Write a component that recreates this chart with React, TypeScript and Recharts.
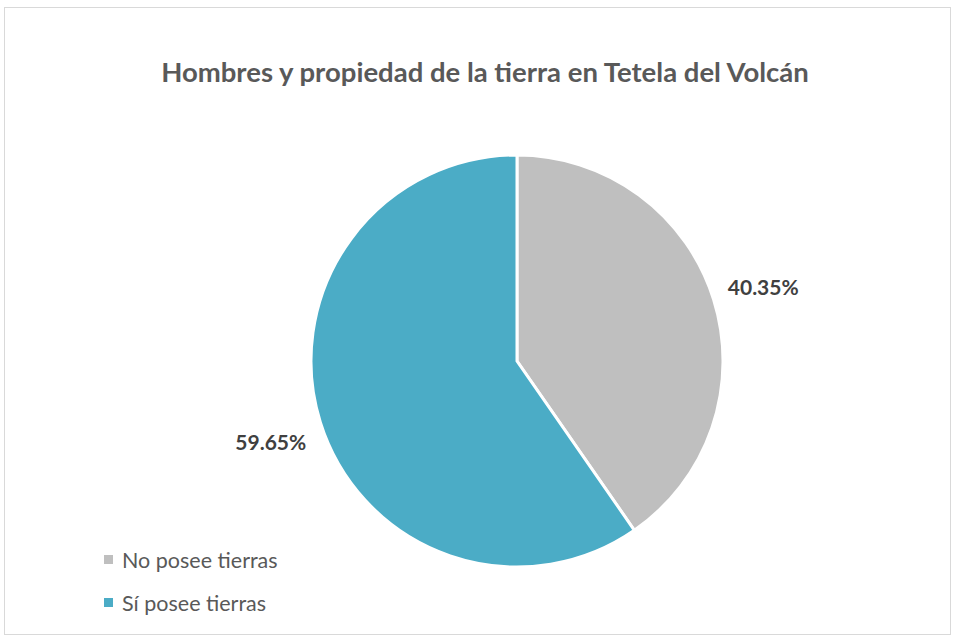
import React from "react";
import { Cell, Pie, PieChart } from "recharts";

const categories = ["No posee tierras", "Sí posee tierras"];
const shares = [40.35, 59.65];
const colors = ["#bfbfbf", "#4bacc6"];

const data = categories.map((name, i) => ({ name, value: shares[i] }));

const RADIAN = Math.PI / 180;
const FONT = "Lato, 'Open Sans', sans-serif";

const renderLabel = (props: any) => {
	const { cx, cy, midAngle, outerRadius, value } = props;
	const r = outerRadius + 52;
	const x = cx + r * Math.cos(-midAngle * RADIAN);
	const y = cy + r * Math.sin(-midAngle * RADIAN) + 3;
	return (
		<text
			x={x}
			y={y}
			fill="#404040"
			textAnchor="middle"
			dominantBaseline="central"
			fontSize={21}
			fontWeight={700}
			fontFamily={FONT}
		>
			{`${value.toFixed(2)}%`}
		</text>
	);
};

export default function App() {
	return (
		<div
			style={{
				position: "fixed",
				left: 0,
				top: 0,
				width: 955,
				height: 637,
				background: "#fff",
			}}
		>
			<div
				style={{
					position: "absolute",
					left: 4,
					top: 7,
					width: 945,
					height: 626,
					border: "1.5px solid #d9d9d9",
				}}
			/>
			<div
				style={{
					position: "absolute",
					left: 0,
					top: 55,
					width: 970,
					textAlign: "center",
					fontFamily: FONT,
					fontWeight: 700,
					fontSize: 27.5,
					color: "#595959",
				}}
			>
				Hombres y propiedad de la tierra en Tetela del Volcán
			</div>
			<div style={{ position: "absolute", left: 0, top: 0 }}>
				<PieChart
					width={955}
					height={637}
					margin={{ top: 0, right: 0, bottom: 0, left: 0 }}
				>
					<Pie
						data={data}
						dataKey="value"
						nameKey="name"
						cx={517}
						cy={361}
						outerRadius={206}
						startAngle={90}
						endAngle={-270}
						stroke="#fff"
						strokeWidth={3}
						label={renderLabel}
						labelLine={false}
						isAnimationActive={false}
					>
						{data.map((d, i) => (
							<Cell key={d.name} fill={colors[i]} />
						))}
					</Pie>
				</PieChart>
			</div>
			<div
				style={{
					position: "absolute",
					left: 104,
					top: 538,
					fontFamily: FONT,
				}}
			>
				{data.map((d, i) => (
					<div
						key={d.name}
						style={{
							display: "flex",
							alignItems: "center",
							height: 43,
							fontSize: 21.5,
							color: "#595959",
						}}
					>
						<span
							style={{
								width: 9,
								height: 9,
								background: colors[i],
								marginRight: 9,
								display: "inline-block",
							}}
						/>
						{d.name}
					</div>
				))}
			</div>
		</div>
	);
}
